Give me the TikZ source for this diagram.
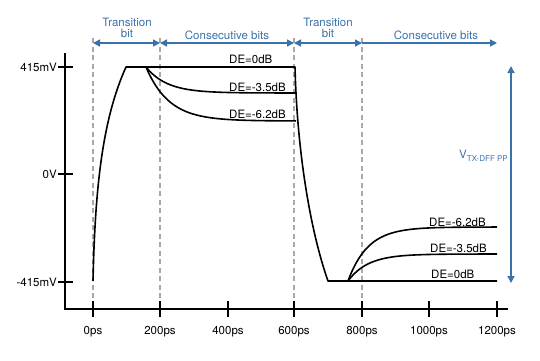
\documentclass[tikz,border=0pt]{standalone}
\usepackage{fontspec}
\setmainfont{TeX Gyre Heros}
\usetikzlibrary{arrows.meta}
\definecolor{dimblue}{HTML}{3A72AC}
\definecolor{dashgray}{HTML}{A8A8A8}
\begin{document}
\begin{tikzpicture}[x=1pt,y=-1pt,
  every node/.style={font=\fontsize{11.5}{13}\selectfont, inner sep=0pt},
  axisline/.style={line width=1.5pt, black},
  wave/.style={line width=1.6pt, black, line join=round},
  guide/.style={dashgray, line width=1.1pt, dash pattern=on 5pt off 3.5pt},
  span/.style={dimblue, line width=1.4pt, {Triangle[length=7pt,width=7pt]}-{Triangle[length=7pt,width=7pt]}},
  spanr/.style={dimblue, line width=1.4pt, -{Triangle[length=7pt,width=7pt]}},
  bluetext/.style={dimblue, align=center},
  delabel/.style={anchor=west}
]
\useasboundingbox (0,0) rectangle (540,360);

% named coordinates
\coordinate (origin) at (65,309);
\coordinate (ytop) at (65,53);
\coordinate (xend) at (508,309);
\foreach \n/\x in {t0/93,t200/160,t400/228,t600/294,t800/362,t1000/429,t1200/497}
  \coordinate (\n) at (\x,309);

% dashed guides
\foreach \x in {93,160,294,362}
  \draw[guide] (\x,38) -- (\x,300);

% axes
\draw[axisline] (ytop) -- (origin) -- (xend);
\foreach \n/\lab in {t0/0ps,t200/200ps,t400/400ps,t600/600ps,t800/800ps,t1000/1000ps,t1200/1200ps}{
  \draw[axisline] ([yshift=8pt]\n) -- ([yshift=-8pt]\n);
  \node (l\n) at ([yshift=-23pt]\n) {\lab};
}
\foreach \y/\lab/\nm in {67/415mV/yp,174/0V/yz,282/-415mV/yn}{
  \draw[axisline] (58,\y) -- (73,\y);
  \node[anchor=east] (\nm) at (57,\y) {\lab};
}

% waveform
\draw[wave] (93,281) .. controls (95,190) and (102,120) .. (126,67) -- (295,67)
  .. controls (297,150) and (310,230) .. (328,281) -- (497,281);
\draw[wave] plot[domain=146:295, samples=80, smooth] (\x, {93-26*exp(-(\x-146)/21)}) -- (295,93);
\draw[wave] plot[domain=146:295, samples=80, smooth] (\x, {121-54*exp(-(\x-146)/23)}) -- (296,121);
\draw[wave] plot[domain=348:497, samples=80, smooth] (\x, {254+27*exp(-(\x-348)/20)});
\draw[wave] plot[domain=348:497, samples=80, smooth] (\x, {227+54*exp(-(\x-348)/20)});

% DE labels
\node[delabel] (de0a) at (229,59) {DE=0dB};
\node[delabel] (de1a) at (229,87) {DE=-3.5dB};
\node[delabel] (de2a) at (229,114) {DE=-6.2dB};
\node[delabel] (de2b) at (429,222) {DE=-6.2dB};
\node[delabel] (de1b) at (430,248) {DE=-3.5dB};
\node[delabel] (de0b) at (431,274) {DE=0dB};

% timing spans
\coordinate (s0) at (93,43);
\coordinate (s1) at (160,43);
\coordinate (s2) at (294,43);
\coordinate (s3) at (362,43);
\coordinate (s4) at (497,43);
\draw[span] (s0) -- (s1);
\draw[span] (s1) -- (s2);
\draw[span] (s2) -- (s3);
\draw[spanr] (s3) -- (s4);
\node[bluetext] (tb1) at (127,28) {Transition\\[-1.5pt]bit};
\node[bluetext] (cb1) at (227,35) {Consecutive bits};
\node[bluetext] (tb2) at (328,28) {Transition\\[-1.5pt]bit};
\node[bluetext] (cb2) at (436,35) {Consecutive bits};

% swing arrow
\coordinate (vtop) at (511,66);
\coordinate (vbot) at (511,283);
\draw[span] (vbot) -- (vtop);
\node[dimblue, anchor=east] (vlab) at (508,156) {V{\fontsize{8}{9}\selectfont\raisebox{-2.5pt}{TX-DFF PP}}};
\end{tikzpicture}
\end{document}
